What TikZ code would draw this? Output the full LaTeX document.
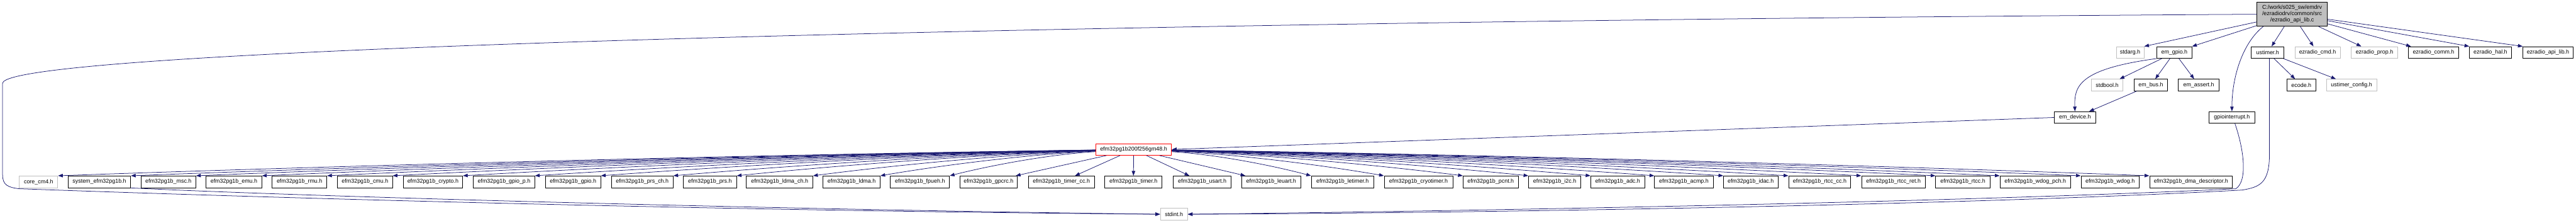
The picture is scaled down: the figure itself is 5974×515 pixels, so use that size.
\documentclass[tikz,border=0pt]{standalone}
\usepackage{fontspec}
\setmainfont{Liberation Sans}
\usetikzlibrary{arrows.meta,calc}
\definecolor{edgec}{HTML}{191970}
\definecolor{grayb}{HTML}{BFBFBF}
\definecolor{redb}{HTML}{FF0000}
\newcommand{\fsz}{\fontsize{6.5}{7.3}\selectfont}
\tikzset{
  docbox/.style={draw=black, line width=0.6pt, fill=white, minimum height=13.5pt, inner sep=0pt, font=\fsz},
  undocbox/.style={docbox, draw=grayb},
  edge/.style={draw=edgec, line width=0.55pt, -{Triangle[length=5.5pt,width=4pt]}}
}
\begin{document}
\begin{tikzpicture}[x=0.5pt,y=-0.5pt]
\useasboundingbox (0,0) rectangle (5974,515);
% root
\node[docbox, fill=grayb, minimum width=81.5pt, minimum height=28pt, align=center] (root) at (5315.5,33)
  {C:/work/s025\_sw/emdrv\\/ezradiodrv/common/src\\/ezradio\_api\_lib.c};
% second rank
\node[undocbox, minimum width=32pt]   (stdarg)  at (4940,121.5) {stdarg.h};
\node[docbox,   minimum width=40.5pt] (emgpio)  at (5042.5,121.5) {em\_gpio.h};
\node[docbox,   minimum width=38pt]   (ustimer) at (5259,121.5) {ustimer.h};
\node[undocbox, minimum width=52.5pt] (ezcmd)   at (5374.5,121.5) {ezradio\_cmd.h};
\node[undocbox, minimum width=53.5pt] (ezprop)  at (5506.5,121.5) {ezradio\_prop.h};
\node[docbox,   minimum width=58.5pt] (ezcomm)  at (5643.5,121.5) {ezradio\_comm.h};
\node[docbox,   minimum width=48.5pt] (ezhal)   at (5775.5,121.5) {ezradio\_hal.h};
\node[docbox,   minimum width=58pt]   (ezapi)   at (5909,121.5) {ezradio\_api\_lib.h};
% third rank
\node[undocbox, minimum width=36.5pt] (stdbool) at (4886.5,197) {stdbool.h};
\node[docbox,   minimum width=39pt]   (embus)   at (4988,197) {em\_bus.h};
\node[docbox,   minimum width=47pt]   (emassert) at (5099,197) {em\_assert.h};
\node[docbox,   minimum width=33pt]   (ecode)   at (5337,197) {ecode.h};
\node[undocbox, minimum width=58.5pt] (uscfg)   at (5453.5,197) {ustimer\_config.h};
% fourth rank
\node[docbox, minimum width=48pt] (emdevice) at (4812,272) {em\_device.h};
\node[docbox, minimum width=53pt] (gpioint)  at (5176,272) {gpiointerrupt.h};
% device header
\node[docbox, draw=redb, minimum width=88pt] (efmdev) at (2629,346) {efm32pg1b200f256gm48.h};
% bottom
\node[undocbox, minimum width=31.5pt] (stdint) at (2722.5,496) {stdint.h};
% main row
\node[undocbox, minimum width=44.5pt] (core) at (89.5,421) {core\_cm4.h};
\foreach \nm/\cx/\w/\lab in {
  sys/230.5/72.5/system\_efm32pg1b.h,
  msc/390.5/63.5/efm32pg1b\_msc.h,
  emu/542.5/64.5/efm32pg1b\_emu.h,
  rmu/694.5/63.5/efm32pg1b\_rmu.h,
  cmu/846.5/63.5/efm32pg1b\_cmu.h,
  crypto/1004/69/efm32pg1b\_crypto.h,
  gpiop/1169/71/efm32pg1b\_gpio\_p.h,
  gpio/1329/64/efm32pg1b\_gpio.h,
  prsch/1489.5/71.5/efm32pg1b\_prs\_ch.h,
  prs/1646.5/61.5/efm32pg1b\_prs.h,
  ldmach/1808/77/efm32pg1b\_ldma\_ch.h,
  ldma/1975/66/efm32pg1b\_ldma.h,
  fpueh/2133.5/68.5/efm32pg1b\_fpueh.h,
  gpcrc/2292.5/66.5/efm32pg1b\_gpcrc.h,
  timercc/2461.5/76.5/efm32pg1b\_timer\_cc.h,
  timer/2628.5/66.5/efm32pg1b\_timer.h,
  usart/2788/67/efm32pg1b\_usart.h,
  leuart/2948/69/efm32pg1b\_leuart.h,
  letimer/3113.5/72.5/efm32pg1b\_letimer.h,
  cryo/3289.5/79.5/efm32pg1b\_cryotimer.h,
  pcnt/3457/64/efm32pg1b\_pcnt.h,
  itwoc/3605.5/60.5/efm32pg1b\_i2c.h,
  adc/3751.5/62.5/efm32pg1b\_adc.h,
  acmp/3905/68/efm32pg1b\_acmp.h,
  idac/4060/63/efm32pg1b\_idac.h,
  rtcccc/4220/72/efm32pg1b\_rtcc\_cc.h,
  rtccret/4391/74/efm32pg1b\_rtcc\_ret.h,
  rtcc/4552/63/efm32pg1b\_rtcc.h,
  wdogpch/4720/82/efm32pg1b\_wdog\_pch.h,
  wdog/4893.5/67.5/efm32pg1b\_wdog.h,
  dmadesc/5081/96/efm32pg1b\_dma\_descriptor.h}
  \node[docbox, minimum width=\w pt] (\nm) at (\cx,421) {\lab};

% ---- edges from root
\draw[edge] (root) -- (stdarg.north east);
\draw[edge] (root) -- (emgpio.north east);
\draw[edge] (root) -- (ustimer);
\draw[edge] (root) -- (ezcmd);
\draw[edge] (root) -- (ezprop);
\draw[edge] (root) -- (ezcomm);
\draw[edge] (root) -- (ezhal.north west);
\draw[edge] (root) -- (ezapi.north west);
\draw[edge] ($(root.south west)+(15,0)$) .. controls (5200,100) and (5176,180) .. (gpioint.north);
\draw[edge] (root.west) .. controls (2500,50) and (6,112) .. (6,193) -- (6,405)
  .. controls (6,428) and (18,434) .. (45,437) .. controls (900,468) and (1900,490) .. (stdint.west);
% ---- em_gpio
\draw[edge] (emgpio) -- (stdbool);
\draw[edge] (emgpio) -- (embus);
\draw[edge] (emgpio) -- (emassert);
\draw[edge] (emgpio.south west) .. controls (4820,160) and (4810,200) .. (emdevice.north);
\draw[edge] (embus) -- (emdevice);
% ---- ustimer
\draw[edge] (ustimer) -- (ecode);
\draw[edge] (ustimer) -- (uscfg);
\draw[edge] ($(ustimer.south)+(4,0)$) -- (5263,357) .. controls (5263,425) and (5240,433) .. (5200,440)
  .. controls (4500,478) and (3300,494) .. (stdint.east);
\draw[edge] ($(gpioint.south)+(7,0)$) .. controls (5205,350) and (5212,420) .. (5185,437)
  .. controls (4500,470) and (3300,490) .. (stdint.east);
% ---- em_device
\draw[edge] (emdevice.west) -- (efmdev.east);
% ---- system -> stdint
\draw[edge] (sys.south east) .. controls (700,455) and (1800,485) .. (stdint.west);
% ---- device fan-out
\foreach \nm in {core,sys,msc,emu,rmu,cmu,crypto,gpiop,gpio,prsch,prs,ldmach,ldma,fpueh}
  \draw[edge] let \p1=(efmdev.west), \p2=(\nm.north east) in
    (efmdev) .. controls ({\x1+0.3*(\x2-\x1)},{\y1+0.18*(\y2-\y1)})
                 and ({\x1+0.7*(\x2-\x1)},{\y1+0.58*(\y2-\y1)}) .. (\nm.north east);
\foreach \nm in {gpcrc,timercc,timer,usart,leuart}
  \draw[edge] (efmdev) -- (\nm);
\foreach \nm in {letimer,cryo,pcnt,itwoc,adc,acmp,idac,rtcccc,rtccret,rtcc,wdogpch,wdog,dmadesc}
  \draw[edge] let \p1=(efmdev.east), \p2=(\nm.north west) in
    (efmdev) .. controls ({\x1+0.3*(\x2-\x1)},{\y1+0.18*(\y2-\y1)})
                 and ({\x1+0.7*(\x2-\x1)},{\y1+0.58*(\y2-\y1)}) .. (\nm.north west);
\end{tikzpicture}
\end{document}
